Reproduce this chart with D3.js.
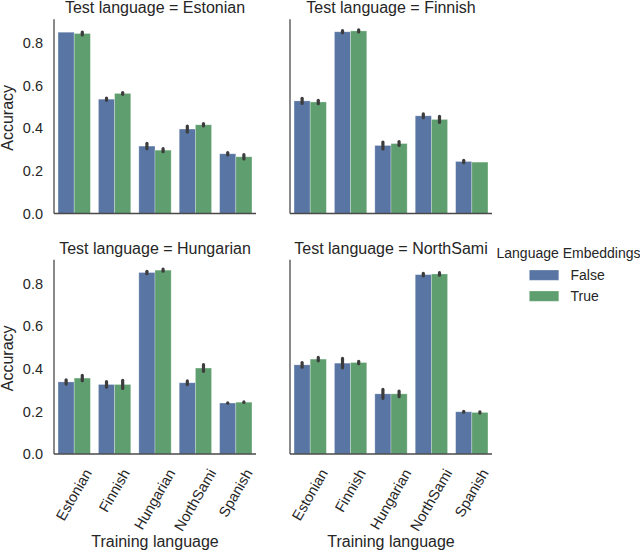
<!DOCTYPE html>
<html>
<head>
<meta charset="utf-8">
<script src="https://cdn.jsdelivr.net/npm/d3@7"></script>
<style>
  body { margin: 0; background: #fff; }
  text { font-family: "Liberation Sans", Arial, sans-serif; fill: #262626; }
</style>
</head>
<body>
<script>
const svgWidth = 640;
const svgHeight = 552;

// data
const trainLanguages = ['Estonian', 'Finnish', 'Hungarian', 'NorthSami', 'Spanish'];
const testLanguages = ['Estonian', 'Finnish', 'Hungarian', 'NorthSami'];
const embeddingLevels = ['False', 'True'];
const yTicks = [0, 0.2, 0.4, 0.6, 0.8];

const estonianFalse = [0.850, 0.536, 0.316, 0.396, 0.280];
const estonianTrue = [0.844, 0.563, 0.297, 0.416, 0.266];
const finnishFalse = [0.528, 0.852, 0.319, 0.458, 0.244];
const finnishTrue = [0.523, 0.856, 0.328, 0.441, 0.241];
const hungarianFalse = [0.338, 0.326, 0.851, 0.334, 0.239];
const hungarianTrue = [0.356, 0.326, 0.862, 0.403, 0.243];
const northSamiFalse = [0.418, 0.426, 0.282, 0.841, 0.198];
const northSamiTrue = [0.445, 0.429, 0.282, 0.844, 0.195];

// half-width of the confidence intervals
const estonianErrFalse = [0, 0.0055, 0.0125, 0.014, 0.0055];
const estonianErrTrue = [0.007, 0.004, 0.007, 0.0055, 0.010];
const finnishErrFalse = [0.012, 0.005, 0.016, 0.009, 0.0055];
const finnishErrTrue = [0.008, 0.005, 0.009, 0.014, 0];
const hungarianErrFalse = [0.010, 0.013, 0.0055, 0.0086, 0.001];
const hungarianErrTrue = [0.0125, 0.019, 0.005, 0.0156, 0.001];
const northSamiErrFalse = [0.011, 0.022, 0.021, 0.006, 0.002];
const northSamiErrTrue = [0.008, 0.0055, 0.013, 0.006, 0.003];

const means = [
  [estonianFalse, estonianTrue],
  [finnishFalse, finnishTrue],
  [hungarianFalse, hungarianTrue],
  [northSamiFalse, northSamiTrue],
];
const errs = [
  [estonianErrFalse, estonianErrTrue],
  [finnishErrFalse, finnishErrTrue],
  [hungarianErrFalse, hungarianErrTrue],
  [northSamiErrFalse, northSamiErrTrue],
];

const colors = ['#5975a4', '#5f9e6e'];

const colLeft = [54, 290];
const rowZero = [213.5, 454];
const panelWidth = 202;
const panelHeight = 194.3;

const svg = d3.select('body').append('svg')
  .attr('width', svgWidth)
  .attr('height', svgHeight);

const x = d3.scaleBand()
  .domain(trainLanguages)
  .range([0, panelWidth])
  .paddingInner(0.2)
  .paddingOuter(0.1);

const xHue = d3.scaleBand()
  .domain(embeddingLevels)
  .range([0, x.bandwidth()]);

const y = d3.scaleLinear()
  .domain([0, 0.911])
  .range([panelHeight, 0]);

const hue = d3.scaleOrdinal().domain(embeddingLevels).range(colors);

testLanguages.forEach((test, p) => {
  const row = Math.floor(p / 2);
  const col = p % 2;
  const g = svg.append('g')
    .attr('transform', `translate(${colLeft[col]},${rowZero[row] - panelHeight})`);

  const rows = [];
  trainLanguages.forEach((train, i) => {
    embeddingLevels.forEach((emb, k) => {
      rows.push({
        train, emb, value: means[p][k][i], err: errs[p][k][i],
      });
    });
  });

  // bars
  g.append('g')
    .selectAll('rect')
    .data(rows)
    .enter()
    .append('rect')
    .attr('x', d => x(d.train) + xHue(d.emb))
    .attr('y', d => y(d.value))
    .attr('width', xHue.bandwidth())
    .attr('height', d => y(0) - y(d.value))
    .attr('fill', d => hue(d.emb))
    .attr('stroke', 'rgba(255,255,255,0.35)')
    .attr('stroke-width', 0.8);

  // error bars
  g.append('g')
    .selectAll('line')
    .data(rows.filter(d => d.err > 0))
    .enter()
    .append('line')
    .attr('x1', d => x(d.train) + xHue(d.emb) + xHue.bandwidth() / 2)
    .attr('x2', d => x(d.train) + xHue(d.emb) + xHue.bandwidth() / 2)
    .attr('y1', d => y(d.value - d.err))
    .attr('y2', d => y(d.value + d.err))
    .attr('stroke', '#3c3c3c')
    .attr('stroke-width', 3.2)
    .attr('stroke-linecap', 'round');

  // spines
  g.append('line')
    .attr('x1', 0).attr('x2', 0)
    .attr('y1', 0).attr('y2', panelHeight)
    .attr('stroke', '#4a4a4a').attr('stroke-width', 1.3);
  g.append('line')
    .attr('x1', 0).attr('x2', panelWidth)
    .attr('y1', panelHeight).attr('y2', panelHeight)
    .attr('stroke', '#4a4a4a').attr('stroke-width', 1.3);

  // title
  g.append('text')
    .attr('x', panelWidth / 2)
    .attr('y', -5.8)
    .attr('text-anchor', 'middle')
    .attr('font-size', 16)
    .text(`Test language = ${test}`);

  if (col === 0) {
    g.append('g')
      .selectAll('text')
      .data(yTicks)
      .enter()
      .append('text')
      .attr('x', -11)
      .attr('y', d => y(d))
      .attr('dy', '0.36em')
      .attr('text-anchor', 'end')
      .attr('font-size', 14.5)
      .text(d => d.toFixed(1));

    g.append('text')
      .attr('transform', `translate(${12.5 - colLeft[0]},${panelHeight / 2 + 1.5}) rotate(-90)`)
      .attr('text-anchor', 'middle')
      .attr('font-size', 16)
      .text('Accuracy');
  }

  if (row === 1) {
    const labels = g.append('g')
      .selectAll('text')
      .data(trainLanguages)
      .enter()
      .append('text')
      .attr('text-anchor', 'middle')
      .attr('dy', '0.32em')
      .attr('font-size', 14.5)
      .text(d => d);

    labels.attr('transform', function (d) {
      const w = this.getComputedTextLength();
      const cx = x(d) + x.bandwidth() / 2;
      const cy = panelHeight + 12.5 + 0.433 * w + 4;
      return `translate(${cx},${cy}) rotate(-60)`;
    });

    g.append('text')
      .attr('x', panelWidth / 2)
      .attr('y', panelHeight + 93)
      .attr('text-anchor', 'middle')
      .attr('font-size', 16)
      .text('Training language');
  }
});

// legend
const legend = svg.append('g');
legend.append('text')
  .attr('x', 496.5)
  .attr('y', 258.3)
  .attr('font-size', 14)
  .text('Language Embeddings');

const items = legend.selectAll('g')
  .data(embeddingLevels)
  .enter()
  .append('g')
  .attr('transform', (d, i) => `translate(0,${i * 21})`);

items.append('rect')
  .attr('x', 529.3)
  .attr('y', 270)
  .attr('width', 29.5)
  .attr('height', 10.3)
  .attr('fill', hue)
  .attr('stroke', 'rgba(255,255,255,0.35)')
  .attr('stroke-width', 0.8);

items.append('text')
  .attr('x', 570.5)
  .attr('y', 279.8)
  .attr('font-size', 14)
  .text(d => d);
</script>
</body>
</html>
